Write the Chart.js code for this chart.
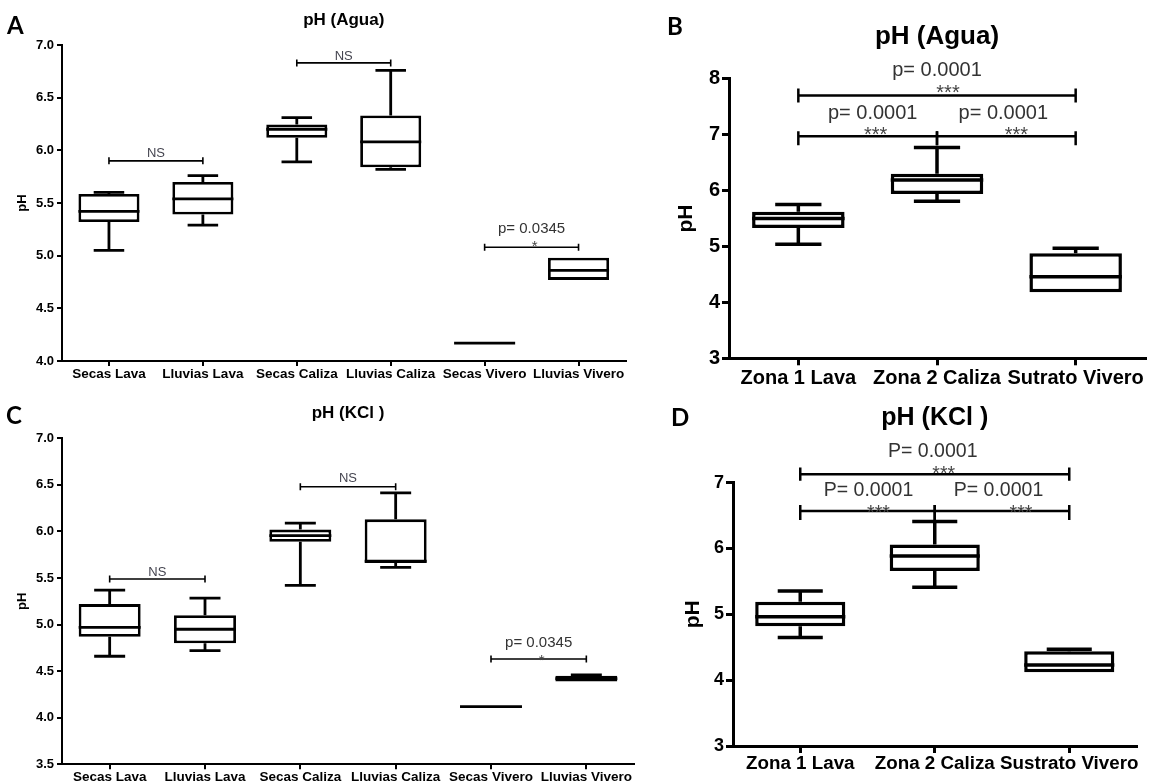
<!DOCTYPE html>
<html lang="es">
<head>
<meta charset="UTF-8">
<title>pH (Agua) y pH (KCl)</title>
<script src="https://cdn.jsdelivr.net/npm/chart.js@4.4.1/dist/chart.umd.min.js"></script>
<style>
  body { margin: 0; background: #fff; }
  #fig { position: relative; width: 1151px; height: 782px; overflow: hidden; }
  canvas { position: absolute; }
  .letter { position: absolute; font: bold 24px Lato, sans-serif; line-height: 24px; color: #000; }
</style>
</head>
<body>
<div id="fig">
  <canvas id="chartA" width="640" height="390" style="left:0;top:0"></canvas>
  <canvas id="chartB" width="511" height="390" style="left:640px;top:0"></canvas>
  <canvas id="chartC" width="640" height="392" style="left:0;top:390px"></canvas>
  <canvas id="chartD" width="511" height="392" style="left:640px;top:390px"></canvas>
  <div class="letter" style="left:7px;top:13px">A</div>
  <div class="letter" style="left:667px;top:14px">B</div>
  <div class="letter" style="left:6px;top:403px">C</div>
  <div class="letter" style="left:671px;top:405px">D</div>
</div>

<script>
// --- data (pH values) ---
const seasonLabels = ['Secas Lava', 'Lluvias Lava', 'Secas Caliza', 'Lluvias Caliza', 'Secas Vivero', 'Lluvias Vivero'];
const zoneLabelsAgua = ['Zona 1 Lava', 'Zona 2 Caliza', 'Sutrato Vivero'];
const zoneLabelsKcl = ['Zona 1 Lava', 'Zona 2 Caliza', 'Sustrato Vivero'];

// A: pH (Agua) per season
const aguaSeasonMin = [5.05, 5.29, 5.89, 5.82, 4.17, 4.77];
const aguaSeasonQ1  = [5.32, 5.39, 6.12, 5.84, 4.17, 4.77];
const aguaSeasonMed = [5.42, 5.54, 6.20, 6.08, 4.17, 4.86];
const aguaSeasonQ3  = [5.585, 5.70, 6.245, 6.33, 4.17, 4.98];
const aguaSeasonMax = [5.60, 5.76, 6.31, 6.76, 4.17, 4.98];

// B: pH (Agua) per zone
const aguaZoneMin = [5.04, 5.81, 4.18];
const aguaZoneQ1  = [5.33, 5.94, 4.18];
const aguaZoneMed = [5.50, 6.19, 4.46];
const aguaZoneQ3  = [5.62, 6.30, 4.88];
const aguaZoneMax = [5.75, 6.77, 4.97];

// C: pH (KCl) per season
const kclSeasonMin = [4.66, 4.72, 5.42, 5.615, 4.12, 4.39];
const kclSeasonQ1  = [4.87, 4.80, 5.89, 5.66, 4.12, 4.39];
const kclSeasonMed = [4.97, 4.95, 5.955, 5.68, 4.12, 4.42];
const kclSeasonQ3  = [5.22, 5.10, 6.02, 6.13, 4.12, 4.45];
const kclSeasonMax = [5.37, 5.285, 6.09, 6.415, 4.12, 4.46];

// D: pH (KCl) per zone
const kclZoneMin = [4.65, 5.41, 4.12];
const kclZoneQ1  = [4.82, 5.66, 4.12];
const kclZoneMed = [4.965, 5.885, 4.23];
const kclZoneQ3  = [5.19, 6.06, 4.44];
const kclZoneMax = [5.355, 6.41, 4.47];

const FONT = "'Liberation Sans', Arial, sans-serif";
Chart.defaults.color = '#000';
Chart.defaults.font.family = FONT;

// whiskers, caps and median on top of the floating bars
function boxPlugin(p) {
  return {
    id: 'boxPlot',
    afterDatasetsDraw(chart) {
      const ctx = chart.ctx, y = chart.scales.y;
      ctx.save();
      ctx.strokeStyle = '#000';
      ctx.lineWidth = p.lw;
      chart.getDatasetMeta(0).data.forEach((bar, i) => {
        const { x, width } = bar.getProps(['x', 'width'], true);
        const half = width / 2, cap = width / 4;
        const yMax = y.getPixelForValue(p.max[i]), yQ3 = y.getPixelForValue(p.q3[i]);
        const yMin = y.getPixelForValue(p.min[i]), yQ1 = y.getPixelForValue(p.q1[i]);
        const yMed = y.getPixelForValue(p.med[i]);
        ctx.beginPath();
        if (p.max[i] > p.q3[i]) {
          ctx.moveTo(x, yMax); ctx.lineTo(x, yQ3);
          ctx.moveTo(x - cap, yMax); ctx.lineTo(x + cap, yMax);
        }
        if (p.min[i] < p.q1[i]) {
          ctx.moveTo(x, yMin); ctx.lineTo(x, yQ1);
          ctx.moveTo(x - cap, yMin); ctx.lineTo(x + cap, yMin);
        }
        ctx.moveTo(x - half, yMed); ctx.lineTo(x + half, yMed);
        ctx.stroke();
      });
      ctx.restore();
    }
  };
}

// significance brackets with p-values
function bracketPlugin(p) {
  return {
    id: 'brackets',
    afterDraw(chart) {
      const { ctx, scales: { x, y } } = chart;
      ctx.save();
      p.brackets.forEach(b => {
        const x1 = x.getPixelForValue(b.from), x2 = x.getPixelForValue(b.to);
        const yy = y.getPixelForValue(b.y);
        ctx.strokeStyle = '#000';
        ctx.lineWidth = p.bracketW;
        ctx.beginPath();
        ctx.moveTo(x1, yy); ctx.lineTo(x2, yy);
        ctx.moveTo(x1, yy - b.up); ctx.lineTo(x1, yy + b.down);
        ctx.moveTo(x2, yy - b.up); ctx.lineTo(x2, yy + b.down);
        ctx.stroke();
        const mid = (x1 + x2) / 2;
        ctx.textAlign = 'center';
        ctx.textBaseline = 'alphabetic';
        ctx.font = b.size + 'px ' + FONT;
        ctx.fillStyle = b.label === 'NS' ? '#454550' : '#333';
        ctx.fillText(b.label, mid + (b.labelDx || 0), yy + b.labelDy);
        if (b.stars) {
          ctx.fillStyle = '#444';
          ctx.fillText(b.stars, mid + (b.starDx || 0), yy + b.starDy);
        }
      });
      ctx.restore();
    }
  };
}

function makePanel(id, p) {
  const canvas = document.getElementById(id);
  const W = canvas.width, H = canvas.height;
  const lh = p.titleSize * 1.2;
  const titleTop = p.titleY - lh / 2;
  const yLh = p.yTitleSize * 1.2;
  return new Chart(canvas, {
    type: 'bar',
    data: {
      labels: p.labels,
      datasets: [{
        data: p.q1.map((v, i) => [v, p.q3[i]]),
        backgroundColor: '#fff',
        borderColor: '#000',
        borderWidth: p.lw,
        borderSkipped: false,
        barPercentage: p.barPct,
        categoryPercentage: 1
      }]
    },
    options: {
      responsive: false,
      animation: false,
      layout: { padding: { left: 0, top: 0, bottom: 0, right: W - p.area.right } },
      plugins: {
        legend: { display: false },
        tooltip: { enabled: false },
        title: {
          display: true,
          text: p.title,
          fullSize: false,
          color: '#000',
          font: { size: p.titleSize, weight: 'bold' },
          padding: { top: titleTop, bottom: p.area.top - titleTop - lh }
        }
      },
      scales: {
        x: {
          offset: true,
          grid: { offset: false, drawOnChartArea: false, color: '#000', lineWidth: p.axisW, tickLength: p.tickLen },
          border: { color: '#000', width: p.axisW },
          ticks: { color: '#000', font: { size: p.xFont, weight: 'bold' }, padding: p.xPad, maxRotation: 0, autoSkip: false },
          afterFit: s => { s.height = H - p.area.bottom; }
        },
        y: {
          min: p.yMin,
          max: p.yMax,
          grid: { drawOnChartArea: false, color: '#000', lineWidth: p.axisW, tickLength: p.tickLen },
          border: { color: '#000', width: p.axisW },
          ticks: {
            stepSize: p.step,
            color: '#000',
            font: { size: p.yFont, weight: 'bold' },
            padding: p.yPad,
            callback: v => v.toFixed(p.dec)
          },
          title: {
            display: true,
            text: 'pH',
            color: '#000',
            font: { size: p.yTitleSize, weight: 'bold' },
            padding: { top: p.yTitleX - yLh / 2, bottom: 0 }
          },
          afterFit: s => { s.width = p.area.left; }
        }
      }
    },
    plugins: [boxPlugin(p), bracketPlugin(p)]
  });
}

const seasonStyle = {
  titleSize: 17, xFont: 13.5, yFont: 13, yTitleSize: 13, yTitleX: 22,
  tickLen: 5, axisW: 2, lw: 2.8, barPct: 0.65, xPad: 0, yPad: 3, bracketW: 1.6,
  step: 0.5, dec: 1, yMax: 7
};
const zoneStyle = {
  tickLen: 7, axisW: 3, lw: 3.5, yPad: 2, bracketW: 2.5, step: 1, dec: 0
};

makePanel('chartA', Object.assign({}, seasonStyle, {
  labels: seasonLabels, title: 'pH (Agua)', titleY: 20,
  area: { left: 62, right: 625.5, top: 45, bottom: 361 }, yMin: 4,
  min: aguaSeasonMin, q1: aguaSeasonQ1, med: aguaSeasonMed, q3: aguaSeasonQ3, max: aguaSeasonMax,
  brackets: [
    { from: 0, to: 1, y: 5.90, up: 3.5, down: 3.5, label: 'NS', size: 13, labelDy: -4.3 },
    { from: 2, to: 3, y: 6.83, up: 3.5, down: 3.5, label: 'NS', size: 13, labelDy: -3.4 },
    { from: 4, to: 5, y: 5.08, up: 3.5, down: 3.5, label: 'p= 0.0345', size: 15, labelDy: -14.4, stars: '*', starDy: 4, starDx: 3 }
  ]
}));

makePanel('chartC', Object.assign({}, seasonStyle, {
  labels: seasonLabels, title: 'pH (KCl )', titleY: 23.3,
  area: { left: 62, right: 634, top: 48.3, bottom: 374.3 }, yMin: 3.5,
  min: kclSeasonMin, q1: kclSeasonQ1, med: kclSeasonMed, q3: kclSeasonQ3, max: kclSeasonMax,
  brackets: [
    { from: 0, to: 1, y: 5.49, up: 3.5, down: 3.5, label: 'NS', size: 13, labelDy: -3.4 },
    { from: 2, to: 3, y: 6.48, up: 3.5, down: 3.5, label: 'NS', size: 13, labelDy: -4.6 },
    { from: 4, to: 5, y: 4.63, up: 3.5, down: 3.5, label: 'p= 0.0345', size: 15, labelDy: -12, stars: '*', starDy: 6, starDx: 3 }
  ]
}));

makePanel('chartB', Object.assign({}, zoneStyle, {
  labels: zoneLabelsAgua, title: 'pH (Agua)', titleSize: 26, titleY: 37,
  area: { left: 89, right: 505, top: 78.7, bottom: 358.3 }, yMin: 3, yMax: 8,
  xFont: 20, yFont: 20, yTitleSize: 21, yTitleX: 46.7, barPct: 0.667, xPad: 1.5,
  min: aguaZoneMin, q1: aguaZoneQ1, med: aguaZoneMed, q3: aguaZoneQ3, max: aguaZoneMax,
  brackets: [
    { from: 0, to: 2, y: 7.70, up: 7, down: 7, label: 'p= 0.0001', size: 20, labelDy: -19.7, stars: '***', starDy: 3.6, starDx: 11 },
    { from: 0, to: 1, y: 6.97, up: 5, down: 9, label: 'p= 0.0001', size: 20, labelDx: 5, labelDy: -17.3, stars: '***', starDy: 5, starDx: 8 },
    { from: 1, to: 2, y: 6.97, up: 5, down: 9, label: 'p= 0.0001', size: 20, labelDx: -3, labelDy: -17.3, stars: '***', starDy: 5, starDx: 10 }
  ]
}));

makePanel('chartD', Object.assign({}, zoneStyle, {
  labels: zoneLabelsKcl, title: 'pH (KCl )', titleSize: 25, titleY: 28.3,
  area: { left: 93, right: 496.5, top: 92.7, bottom: 356 }, yMin: 3, yMax: 7,
  xFont: 18.8, yFont: 18, yTitleSize: 21, yTitleX: 53.3, barPct: 0.67, xPad: 0,
  min: kclZoneMin, q1: kclZoneQ1, med: kclZoneMed, q3: kclZoneQ3, max: kclZoneMax,
  brackets: [
    { from: 0, to: 2, y: 7.13, up: 6.7, down: 6.7, label: 'P= 0.0001', size: 19.5, labelDx: -2, labelDy: -17.3, stars: '***', starDy: 5.4, starDx: 9 },
    { from: 0, to: 1, y: 6.57, up: 6, down: 9, label: 'P= 0.0001', size: 19.5, labelDx: 1, labelDy: -15, stars: '***', starDy: 8, starDx: 11 },
    { from: 1, to: 2, y: 6.57, up: 6, down: 9, label: 'P= 0.0001', size: 19.5, labelDx: -3.5, labelDy: -15, stars: '***', starDy: 8, starDx: 19 }
  ]
}));
</script>
</body>
</html>
